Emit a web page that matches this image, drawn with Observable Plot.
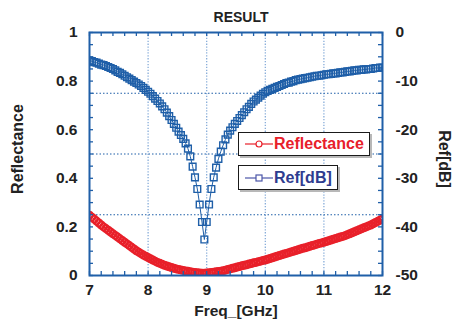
<!DOCTYPE html>
<html>
<head>
<meta charset="utf-8">
<script src="https://cdn.jsdelivr.net/npm/d3@7"></script>
<script src="https://cdn.jsdelivr.net/npm/@observablehq/plot@0.6"></script>
<style>
  html, body { margin: 0; padding: 0; background: #fff; }
  #wrap { position: relative; width: 454px; height: 328px; font-family: "Liberation Sans", Arial, sans-serif; }
  .lg { position: absolute; background: #fff; border: 1.6px solid #1a1a1a; box-shadow: 2px 2px 0 #b8b8b8; box-sizing: border-box; }
  .lg span { position: absolute; top: 50%; transform: translateY(-52%); font-weight: bold; font-size: 16px; white-space: nowrap; }
  .lg svg { position: absolute; left: 5px; top: 50%; transform: translateY(-50%); }
</style>
</head>
<body>
<div id="wrap"></div>
<script>
// Frequency grid (GHz)
const freq = [
  7.00, 7.04, 7.08, 7.12, 7.16, 7.20, 7.24, 7.28, 7.32, 7.36, 7.40, 7.44, 7.48, 7.52, 7.56, 7.60, 7.64, 7.68, 7.72, 7.76,
  7.80, 7.84, 7.88, 7.92, 7.96, 8.00, 8.04, 8.08, 8.12, 8.16, 8.20, 8.24, 8.28, 8.32, 8.36, 8.40, 8.44, 8.48, 8.52, 8.56,
  8.60, 8.64, 8.68, 8.72, 8.76, 8.80, 8.84, 8.88, 8.92, 8.96, 9.00, 9.04, 9.08, 9.12, 9.16, 9.20, 9.24, 9.28, 9.32, 9.36,
  9.40, 9.44, 9.48, 9.52, 9.56, 9.60, 9.64, 9.68, 9.72, 9.76, 9.80, 9.84, 9.88, 9.92, 9.96, 10.00, 10.04, 10.08, 10.12, 10.16,
  10.20, 10.24, 10.28, 10.32, 10.36, 10.40, 10.44, 10.48, 10.52, 10.56, 10.60, 10.64, 10.68, 10.72, 10.76, 10.80, 10.84, 10.88, 10.92, 10.96,
  11.00, 11.04, 11.08, 11.12, 11.16, 11.20, 11.24, 11.28, 11.32, 11.36, 11.40, 11.44, 11.48, 11.52, 11.56, 11.60, 11.64, 11.68, 11.72, 11.76,
  11.80, 11.84, 11.88, 11.92, 11.96, 12.00
];
// Reflectance (left axis)
const reflectance = [
  0.248, 0.240, 0.232, 0.224, 0.216, 0.208, 0.200, 0.193, 0.186, 0.179, 0.172, 0.165, 0.158, 0.151, 0.144, 0.137, 0.130, 0.123, 0.116, 0.109,
  0.102, 0.096, 0.090, 0.084, 0.079, 0.074, 0.069, 0.064, 0.059, 0.054, 0.050, 0.046, 0.042, 0.039, 0.036, 0.033, 0.030, 0.027, 0.025, 0.023,
  0.021, 0.019, 0.017, 0.015, 0.013, 0.012, 0.011, 0.010, 0.009, 0.009, 0.010, 0.011, 0.012, 0.013, 0.015, 0.016, 0.018, 0.020, 0.022, 0.025,
  0.027, 0.030, 0.032, 0.035, 0.037, 0.040, 0.042, 0.044, 0.047, 0.049, 0.052, 0.054, 0.057, 0.059, 0.062, 0.064, 0.067, 0.070, 0.073, 0.076,
  0.079, 0.082, 0.085, 0.088, 0.091, 0.094, 0.097, 0.100, 0.103, 0.106, 0.109, 0.112, 0.114, 0.117, 0.120, 0.123, 0.126, 0.129, 0.132, 0.134,
  0.137, 0.140, 0.143, 0.146, 0.149, 0.152, 0.155, 0.158, 0.161, 0.164, 0.168, 0.172, 0.176, 0.180, 0.184, 0.188, 0.192, 0.196, 0.200, 0.204,
  0.208, 0.213, 0.218, 0.223, 0.228, 0.233
];
// Ref[dB] (right axis)
const refDb = [
  -5.8, -5.9, -6.1, -6.2, -6.4, -6.6, -6.7, -6.9, -7.1, -7.3, -7.5, -7.8, -8.1, -8.3, -8.6, -8.9, -9.2, -9.5, -9.8, -10.1,
  -10.4, -10.7, -11.0, -11.4, -11.8, -12.2, -12.6, -13.1, -13.6, -14.1, -14.6, -15.2, -15.8, -16.5, -17.2, -18.0, -18.8, -19.6, -20.4, -21.1,
  -21.9, -22.8, -23.9, -25.5, -27.6, -29.8, -32.2, -35.4, -39.0, -42.6, -39.0, -35.4, -32.2, -29.8, -27.8, -26.0, -24.5, -23.2, -22.0, -21.0,
  -20.2, -19.5, -18.8, -18.2, -17.6, -17.0, -16.4, -15.8, -15.3, -14.7, -14.2, -13.8, -13.4, -13.0, -12.6, -12.3, -12.0, -11.8, -11.6, -11.4,
  -11.2, -11.0, -10.8, -10.6, -10.4, -10.3, -10.1, -10.0, -9.8, -9.7, -9.6, -9.5, -9.4, -9.3, -9.2, -9.1, -9.0, -8.9, -8.9, -8.8,
  -8.7, -8.6, -8.6, -8.5, -8.4, -8.4, -8.3, -8.2, -8.2, -8.1, -8.0, -8.0, -7.9, -7.8, -7.8, -7.7, -7.7, -7.6, -7.6, -7.5,
  -7.5, -7.4, -7.3, -7.3, -7.2, -7.2
];

const xTickValues = [7, 8, 9, 10, 11, 12];
const xTickLabels = ["7", "8", "9", "10", "11", "12"];
const leftTickValues = [0, 0.2, 0.4, 0.6, 0.8, 1];
const leftTickLabels = ["0", "0.2", "0.4", "0.6", "0.8", "1"];
const rightTickValues = [-50, -40, -30, -20, -10, 0];
const rightTickLabels = ["-50", "-40", "-30", "-20", "-10", "0"];
const xGrid = [8, 9, 10, 11];
const yGrid = [0.25, 0.5, 0.75];
const dbMin = -50, dbMax = 0;

const rows = freq.map((f, i) => ({f, r: reflectance[i], db: refDb[i]}));
const dbToY = v => (v - dbMin) / (dbMax - dbMin);

const W = 454, H = 328, mL = 89, mR = 72, mT = 32, mB = 53;
const frameW = W - mL - mR, frameH = H - mT - mB;
const blue = "#1f5fa8", red = "#e8202a";
const xMinor = d3.range(7, 12.001, 0.2);
const yMinor = d3.range(0, 1.001, 0.05);
const rightPos = rightTickValues.map(dbToY);

const chart = Plot.plot({
  width: W, height: H,
  marginLeft: mL, marginRight: mR, marginTop: mT, marginBottom: mB,
  style: {fontFamily: "'Liberation Sans', Arial, sans-serif", fontSize: "15px", fontWeight: "bold", color: "#222", background: "#fff"},
  x: {domain: [7, 12]},
  y: {domain: [0, 1]},
  marks: [
    Plot.ruleX(xGrid, {stroke: "#7ea6d6", strokeWidth: 1.2, strokeDasharray: "1.3,1.6"}),
    Plot.ruleY(yGrid, {stroke: blue, strokeWidth: 1, strokeDasharray: "1.5,2"}),
    Plot.line(rows, {x: "f", y: "r", stroke: red, strokeWidth: 1, clip: true}),
    Plot.dot(rows, {x: "f", y: "r", r: 3.5, stroke: red, strokeWidth: 2, fill: "none", clip: true}),
    Plot.line(rows, {x: "f", y: d => dbToY(d.db), stroke: blue, strokeWidth: 1, clip: true}),
    Plot.dot(rows, {x: "f", y: d => dbToY(d.db), symbol: "square", r: 3.8, stroke: blue, strokeWidth: 1.4, fill: "none", clip: true}),
    // inward minor ticks
    Plot.tickY(yMinor, {y: d => d, stroke: blue, strokeWidth: 1.3, insetRight: frameW - 4}),
    Plot.tickY(yMinor, {y: d => d, stroke: blue, strokeWidth: 1.3, insetLeft: frameW - 4}),
    Plot.tickX(xMinor, {x: d => d, stroke: blue, strokeWidth: 1.3, insetTop: frameH - 4}),
    Plot.tickX(xMinor, {x: d => d, stroke: blue, strokeWidth: 1.3, insetBottom: frameH - 4}),
    Plot.frame({stroke: blue, strokeWidth: 2}),
    // tick labels
    Plot.axisY({anchor: "left", ticks: leftTickValues, tickSize: 0, tickPadding: 12, fontSize: 15.5,
      tickFormat: d => leftTickLabels[leftTickValues.indexOf(d)], label: null}),
    Plot.axisY({anchor: "right", ticks: rightPos, tickSize: 0, tickPadding: 13, fontSize: 15.5,
      tickFormat: d => rightTickLabels[rightPos.indexOf(d)], label: null}),
    Plot.axisX({anchor: "bottom", ticks: xTickValues, tickSize: 0, tickPadding: 8, fontSize: 15.5,
      tickFormat: d => xTickLabels[xTickValues.indexOf(d)], label: null}),
    // titles
    Plot.text(["RESULT"], {text: d => d, frameAnchor: "top", dx: 5, dy: -20, fontSize: 14, fontWeight: "bold", fill: "#222"}),
    Plot.text(["Freq_[GHz]"], {text: d => d, frameAnchor: "bottom", dy: 40, fontSize: 15.5, fontWeight: "bold", fill: "#222"}),
    Plot.text(["Reflectance"], {text: d => d, frameAnchor: "left", textAnchor: "middle", dx: -72, dy: -5, rotate: -90, fontSize: 16, fontWeight: "bold", fill: "#222"}),
    Plot.text(["Ref[dB]"], {text: d => d, frameAnchor: "right", textAnchor: "middle", dx: 62, dy: 5, rotate: 90, fontSize: 16, fontWeight: "bold", fill: "#222"})
  ]
});

const wrap = document.getElementById("wrap");
wrap.appendChild(chart);

// Legend boxes (overlay inside plot area)
const legendNames = ["Reflectance", "Ref[dB]"];
const legendBoxes = [
  {left: 238, top: 132, width: 132, height: 24, color: red, textColor: red, sym: "circle"},
  {left: 238, top: 165, width: 100, height: 25, color: "#4b56a8", textColor: "#2e3c8f", sym: "square"}
];
legendBoxes.forEach((b, i) => {
  const d = document.createElement("div");
  d.className = "lg";
  Object.assign(d.style, {left: b.left + "px", top: b.top + "px", width: b.width + "px", height: b.height + "px"});
  const symbol = b.sym === "circle"
    ? `<circle cx="15" cy="6" r="3" fill="white" stroke="${b.color}" stroke-width="1.2"/>`
    : `<rect x="12" y="3" width="6" height="6" fill="white" stroke="${b.color}" stroke-width="1.2"/>`;
  d.innerHTML = `<svg width="30" height="12"><line x1="1" y1="6" x2="29" y2="6" stroke="${b.color}" stroke-width="1.2"/>${symbol}</svg><span style="left:35px;color:${b.textColor}">${legendNames[i]}</span>`;
  wrap.appendChild(d);
});
</script>
</body>
</html>
